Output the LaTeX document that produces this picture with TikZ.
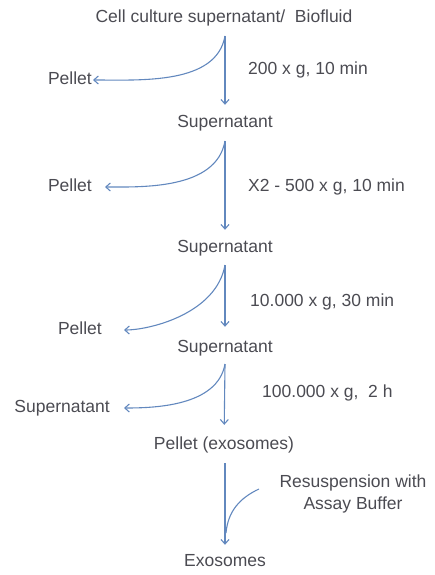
\documentclass[tikz,border=0pt]{standalone}
\usepackage{fontspec}
\setmainfont{Liberation Sans}
\usetikzlibrary{arrows.meta}
\definecolor{txt}{RGB}{75,75,82}
\definecolor{arrc}{RGB}{98,136,190}
\begin{document}
\begin{tikzpicture}[x=1pt,y=1pt,
  lbl/.style={inner sep=0pt, text=txt, font=\fontsize{17.5}{21}\selectfont, text height=12.5pt, text depth=3.5pt},
  lbl2/.style={inner sep=0pt, text=txt, font=\fontsize{17.5}{22}\selectfont, align=center},
  arr/.style={draw=arrc, line width=1.1pt, -{Straight Barb[length=4.5pt,width=8pt]}},
  arrn/.style={draw=arrc, line width=1.1pt}]
\useasboundingbox (0,0) rectangle (435,-575);
% main column
\node[lbl] (title) at (224,-18) {Cell culture supernatant/\ \ Biofluid};
\node[lbl] (sup1) at (225,-123) {Supernatant};
\node[lbl] (sup2) at (225,-248) {Supernatant};
\node[lbl] (sup3) at (225,-348) {Supernatant};
\node[lbl] (pex) at (224,-445) {Pellet (exosomes)};
\node[lbl] (exo) at (225,-562) {Exosomes};
% side products
\node[lbl, anchor=east] (pel1) at (92,-80) {Pellet};
\node[lbl, anchor=east] (pel2) at (92,-187) {Pellet};
\node[lbl, anchor=east] (pel3) at (102,-330) {Pellet};
\node[lbl, anchor=east] (supl) at (110,-408) {Supernatant};
% conditions
\node[lbl, anchor=west] (c1) at (248,-70) {200 x g, 10 min};
\node[lbl, anchor=west] (c2) at (248,-187) {X2 - 500 x g, 10 min};
\node[lbl, anchor=west] (c3) at (250,-302) {10.000 x g, 30 min};
\node[lbl, anchor=west] (c4) at (262,-393) {100.000 x g,\ \ 2 h};
\node[lbl2] (res) at (353,-494) {Resuspension with\\Assay Buffer};
% start points
\coordinate (s1) at (225,-36);
\coordinate (s2) at (225,-141);
\coordinate (s3) at (225,-265);
\coordinate (s4) at (225,-364);
\coordinate (s5) at (225,-463);
\coordinate (join) at (226,-533);
\coordinate (rs) at (259,-489);
% vertical arrows
\draw[arr, shorten >=10pt] (s1) -- (sup1);
\draw[arr, shorten >=10pt] (s2) -- (sup2);
\draw[arr, shorten >=13pt] (s3) -- (sup3);
\draw[arr, shorten >=12pt] (s4) -- (pex);
\draw[arr, shorten >=9pt] (s5) -- (exo);
% side curves
\draw[arr, shorten >=1pt] (s1) to[out=-100, in=0, looseness=0.9] (pel1.east);
\draw[arr, shorten >=13pt] (s2) to[out=-100, in=0, looseness=0.9] (pel2.east);
\draw[arr, shorten >=22pt] (s3) to[out=-100, in=0, looseness=0.9] (pel3.east);
\draw[arr, shorten >=14pt] (s4) to[out=-100, in=0, looseness=0.9] (supl.east);
\draw[arrn] (rs) to[out=205, in=85] (join);
\end{tikzpicture}
\end{document}
